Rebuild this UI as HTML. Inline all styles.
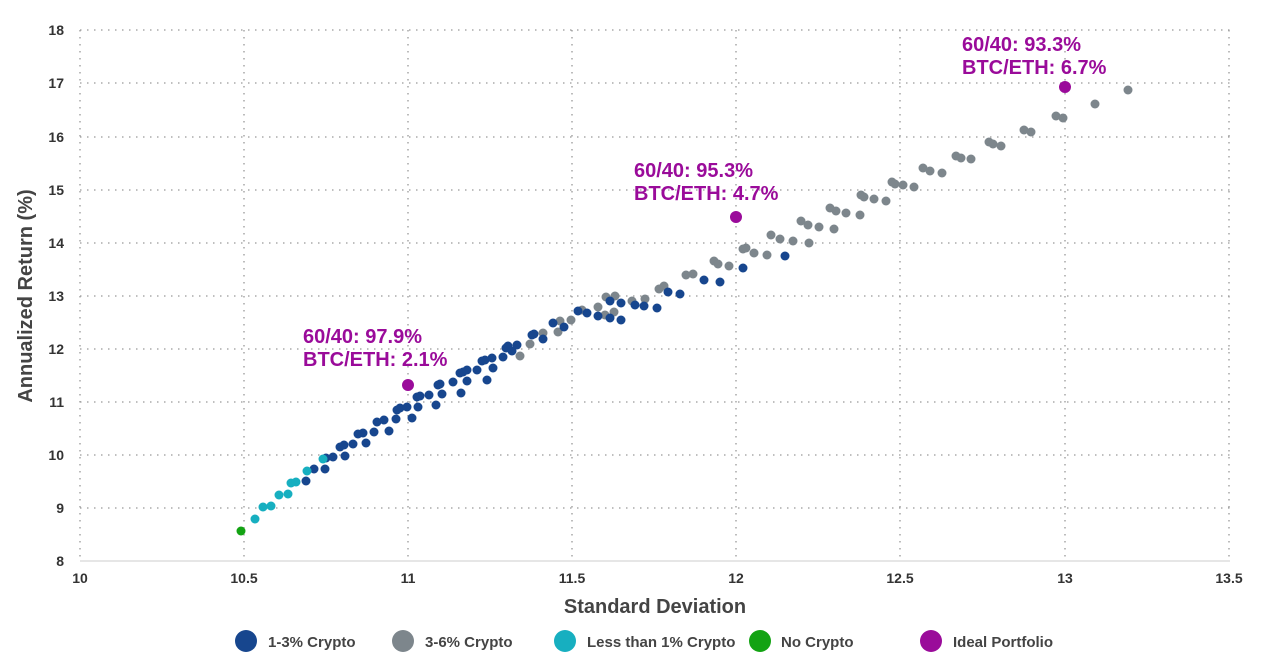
<!DOCTYPE html>
<html><head><meta charset="utf-8"><style>
body{margin:0;background:#fff;}
svg text{font-family:"Liberation Sans",sans-serif;}
</style></head><body>
<svg width="1280" height="662" viewBox="0 0 1280 662" xmlns="http://www.w3.org/2000/svg">
<g stroke="#999" stroke-width="1.3" stroke-dasharray="1.5,5.5" fill="none">
<line x1="80" y1="30" x2="1230" y2="30"/><line x1="80" y1="83" x2="1230" y2="83"/><line x1="80" y1="137" x2="1230" y2="137"/><line x1="80" y1="190" x2="1230" y2="190"/><line x1="80" y1="243" x2="1230" y2="243"/><line x1="80" y1="296" x2="1230" y2="296"/><line x1="80" y1="349" x2="1230" y2="349"/><line x1="80" y1="402" x2="1230" y2="402"/><line x1="80" y1="455" x2="1230" y2="455"/><line x1="80" y1="508" x2="1230" y2="508"/>
<line x1="80" y1="30" x2="80" y2="561"/><line x1="244" y1="30" x2="244" y2="561"/><line x1="408" y1="30" x2="408" y2="561"/><line x1="572" y1="30" x2="572" y2="561"/><line x1="736" y1="30" x2="736" y2="561"/><line x1="900" y1="30" x2="900" y2="561"/><line x1="1065" y1="30" x2="1065" y2="561"/><line x1="1229" y1="30" x2="1229" y2="561"/>
</g>
<line x1="80" y1="561" x2="1230" y2="561" stroke="#ccc" stroke-width="1"/>
<g font-size="14" font-weight="bold" fill="#333" text-anchor="end">
<text x="64" y="35">18</text><text x="64" y="88">17</text><text x="64" y="142">16</text><text x="64" y="195">15</text><text x="64" y="248">14</text><text x="64" y="301">13</text><text x="64" y="354">12</text><text x="64" y="407">11</text><text x="64" y="460">10</text><text x="64" y="513">9</text><text x="64" y="566">8</text>
</g>
<g font-size="14" font-weight="bold" fill="#333" text-anchor="middle">
<text x="80" y="583">10</text><text x="244" y="583">10.5</text><text x="408" y="583">11</text><text x="572" y="583">11.5</text><text x="736" y="583">12</text><text x="900" y="583">12.5</text><text x="1065" y="583">13</text><text x="1229" y="583">13.5</text>
</g>
<text x="655" y="613" font-size="20" font-weight="bold" fill="#444" text-anchor="middle">Standard Deviation</text>
<text transform="translate(32,296) rotate(-90)" font-size="20" font-weight="bold" fill="#444" text-anchor="middle">Annualized Return (%)</text>
<g fill="#7d868c">
<circle cx="605" cy="315" r="4.5"/><circle cx="614" cy="312" r="4.5"/><circle cx="632" cy="301" r="4.5"/><circle cx="645" cy="299" r="4.5"/><circle cx="659" cy="289" r="4.5"/><circle cx="664" cy="286" r="4.5"/><circle cx="686" cy="275" r="4.5"/><circle cx="693" cy="274" r="4.5"/><circle cx="714" cy="261" r="4.5"/><circle cx="718" cy="264" r="4.5"/><circle cx="729" cy="266" r="4.5"/><circle cx="743" cy="249" r="4.5"/><circle cx="746" cy="248" r="4.5"/><circle cx="754" cy="253" r="4.5"/><circle cx="767" cy="255" r="4.5"/><circle cx="771" cy="235" r="4.5"/><circle cx="780" cy="239" r="4.5"/><circle cx="793" cy="241" r="4.5"/><circle cx="809" cy="243" r="4.5"/><circle cx="801" cy="221" r="4.5"/><circle cx="808" cy="225" r="4.5"/><circle cx="819" cy="227" r="4.5"/><circle cx="834" cy="229" r="4.5"/><circle cx="830" cy="208" r="4.5"/><circle cx="836" cy="211" r="4.5"/><circle cx="846" cy="213" r="4.5"/><circle cx="860" cy="215" r="4.5"/><circle cx="861" cy="195" r="4.5"/><circle cx="864" cy="197" r="4.5"/><circle cx="874" cy="199" r="4.5"/><circle cx="886" cy="201" r="4.5"/><circle cx="892" cy="182" r="4.5"/><circle cx="895" cy="184" r="4.5"/><circle cx="903" cy="185" r="4.5"/><circle cx="914" cy="187" r="4.5"/><circle cx="923" cy="168" r="4.5"/><circle cx="930" cy="171" r="4.5"/><circle cx="942" cy="173" r="4.5"/><circle cx="956" cy="156" r="4.5"/><circle cx="961" cy="158" r="4.5"/><circle cx="971" cy="159" r="4.5"/><circle cx="989" cy="142" r="4.5"/><circle cx="993" cy="144" r="4.5"/><circle cx="1001" cy="146" r="4.5"/><circle cx="1024" cy="130" r="4.5"/><circle cx="1031" cy="132" r="4.5"/><circle cx="1056" cy="116" r="4.5"/><circle cx="1063" cy="118" r="4.5"/><circle cx="1095" cy="104" r="4.5"/><circle cx="1128" cy="90" r="4.5"/>
<circle cx="520" cy="356" r="4.5"/><circle cx="530" cy="344" r="4.5"/><circle cx="543" cy="333" r="4.5"/><circle cx="558" cy="332" r="4.5"/><circle cx="560" cy="321" r="4.5"/><circle cx="571" cy="320" r="4.5"/><circle cx="582" cy="310" r="4.5"/><circle cx="598" cy="307" r="4.5"/><circle cx="606" cy="297" r="4.5"/><circle cx="615" cy="296" r="4.5"/>
</g>
<g fill="#17468e">
<circle cx="306" cy="481" r="4.5"/><circle cx="314" cy="469" r="4.5"/><circle cx="325" cy="469" r="4.5"/><circle cx="326" cy="458" r="4.5"/><circle cx="333" cy="457" r="4.5"/><circle cx="345" cy="456" r="4.5"/><circle cx="340" cy="447" r="4.5"/><circle cx="344" cy="445" r="4.5"/><circle cx="353" cy="444" r="4.5"/><circle cx="366" cy="443" r="4.5"/><circle cx="358" cy="434" r="4.5"/><circle cx="363" cy="433" r="4.5"/><circle cx="374" cy="432" r="4.5"/><circle cx="389" cy="431" r="4.5"/><circle cx="377" cy="422" r="4.5"/><circle cx="384" cy="420" r="4.5"/><circle cx="396" cy="419" r="4.5"/><circle cx="412" cy="418" r="4.5"/><circle cx="397" cy="410" r="4.5"/><circle cx="400" cy="408" r="4.5"/><circle cx="407" cy="407" r="4.5"/><circle cx="418" cy="407" r="4.5"/><circle cx="436" cy="405" r="4.5"/><circle cx="417" cy="397" r="4.5"/><circle cx="420" cy="396" r="4.5"/><circle cx="429" cy="395" r="4.5"/><circle cx="442" cy="394" r="4.5"/><circle cx="461" cy="393" r="4.5"/><circle cx="438" cy="385" r="4.5"/><circle cx="440" cy="384" r="4.5"/><circle cx="453" cy="382" r="4.5"/><circle cx="467" cy="381" r="4.5"/><circle cx="487" cy="380" r="4.5"/><circle cx="460" cy="373" r="4.5"/><circle cx="463" cy="372" r="4.5"/><circle cx="467" cy="370" r="4.5"/><circle cx="477" cy="370" r="4.5"/><circle cx="493" cy="368" r="4.5"/><circle cx="482" cy="361" r="4.5"/><circle cx="485" cy="360" r="4.5"/><circle cx="492" cy="358" r="4.5"/><circle cx="503" cy="357" r="4.5"/><circle cx="506" cy="348" r="4.5"/><circle cx="508" cy="346" r="4.5"/><circle cx="517" cy="345" r="4.5"/><circle cx="512" cy="351" r="4.5"/><circle cx="543" cy="339" r="4.5"/><circle cx="532" cy="335" r="4.5"/><circle cx="534" cy="334" r="4.5"/><circle cx="553" cy="323" r="4.5"/><circle cx="564" cy="327" r="4.5"/><circle cx="578" cy="311" r="4.5"/><circle cx="587" cy="313" r="4.5"/><circle cx="598" cy="316" r="4.5"/><circle cx="610" cy="301" r="4.5"/><circle cx="621" cy="303" r="4.5"/><circle cx="610" cy="318" r="4.5"/><circle cx="621" cy="320" r="4.5"/><circle cx="635" cy="305" r="4.5"/><circle cx="644" cy="306" r="4.5"/><circle cx="657" cy="308" r="4.5"/><circle cx="668" cy="292" r="4.5"/><circle cx="680" cy="294" r="4.5"/><circle cx="704" cy="280" r="4.5"/><circle cx="720" cy="282" r="4.5"/><circle cx="743" cy="268" r="4.5"/><circle cx="785" cy="256" r="4.5"/>
</g>
<g fill="#17afc0">
<circle cx="255" cy="519" r="4.5"/><circle cx="263" cy="507" r="4.5"/><circle cx="271" cy="506" r="4.5"/><circle cx="279" cy="495" r="4.5"/><circle cx="288" cy="494" r="4.5"/><circle cx="291" cy="483" r="4.5"/><circle cx="296" cy="482" r="4.5"/><circle cx="307" cy="471" r="4.5"/><circle cx="323" cy="459" r="4.5"/>
</g>
<circle cx="241" cy="531" r="4.5" fill="#13a313"/>
<g fill="#9a0b9a">
<circle cx="408" cy="385" r="6"/><circle cx="736" cy="217" r="6"/><circle cx="1065" cy="87" r="6"/>
</g>
<g font-size="20" font-weight="bold" fill="#9a0b9a">
<text x="303" y="343">60/40: 97.9%</text><text x="303" y="366">BTC/ETH: 2.1%</text>
<text x="634" y="177">60/40: 95.3%</text><text x="634" y="200">BTC/ETH: 4.7%</text>
<text x="962" y="51">60/40: 93.3%</text><text x="962" y="74">BTC/ETH: 6.7%</text>
</g>
<g font-size="15" font-weight="bold" fill="#444">
<circle cx="246" cy="641" r="11" fill="#17468e"/><text x="268" y="647">1-3% Crypto</text>
<circle cx="403" cy="641" r="11" fill="#7d868c"/><text x="425" y="647">3-6% Crypto</text>
<circle cx="565" cy="641" r="11" fill="#17afc0"/><text x="587" y="647">Less than 1% Crypto</text>
<circle cx="760" cy="641" r="11" fill="#13a313"/><text x="781" y="647">No Crypto</text>
<circle cx="931" cy="641" r="11" fill="#9a0b9a"/><text x="953" y="647">Ideal Portfolio</text>
</g>
</svg>
</body></html>
